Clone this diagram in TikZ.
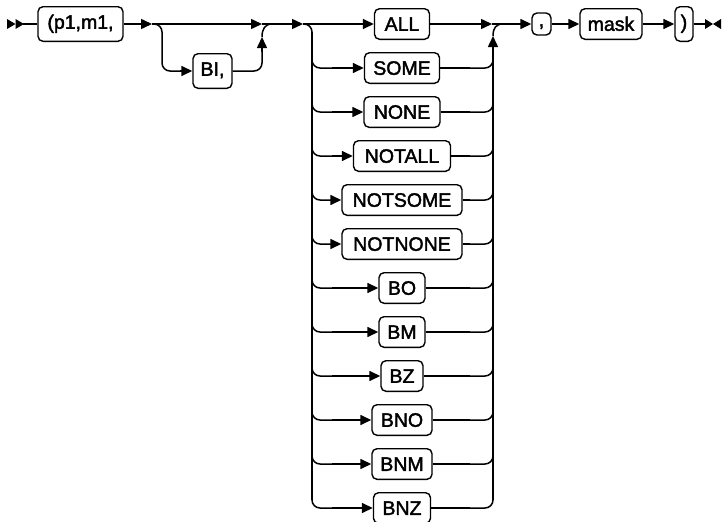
\documentclass[tikz,border=0pt]{standalone}
\usepackage{fontspec}
\setmainfont{Liberation Sans}
\newfontfamily\tfont{Liberation Sans}[FakeBold=2]
\usetikzlibrary{arrows.meta}
\begin{document}
\begin{tikzpicture}[x=1pt,y=-1pt,
  line width=1.5pt,
  arr/.style={-{Triangle[length=11pt,width=10pt]}},
  term/.style={draw, rounded corners=5pt, line width=1.4pt,
    font=\tfont\fontsize{19.5pt}{22pt}\selectfont, text height=13.6pt, text depth=0pt,
    inner ysep=8.5pt, inner xsep=2pt},
  bar/.style={line width=2.6pt},
  rc/.style={rounded corners=8pt},
]
\useasboundingbox (0,0) rectangle (726,522);

% start marker
\fill (7,19) -- (15.5,24) -- (7,29) -- cycle;
\fill (15.5,19) -- (24,24) -- (15.5,29) -- cycle;
\coordinate (s) at (23,24);

\node[term, minimum width=85pt, text depth=4pt] (p1) at (80.5,24) {(p1,m1,};
\draw (s) -- (p1.west);

\coordinate (j1) at (152,24);
\coordinate (m1) at (262,24);
\coordinate (j2) at (303,24);
\draw[arr] (p1.east) -- (j1);
\draw[arr] (j1) -- (m1);
\draw[arr] (m1) -- (j2);

% optional BI,
\node[term, minimum width=39pt, text depth=4pt] (bi) at (212.5,71) {BI,};
\coordinate (bil) at (180,71);
\draw[rc] (j1) -| (162,71) -- (bil);
\draw[arr] (bil) -- (bi.west);
\coordinate (biu) at (262,52);
\coordinate (bit) at (262,37);
\draw[rc] (bi.east) -| (biu);
\draw[arr] (biu) -- (bit);
\draw (bit) .. controls (262,29) and (265,24) .. (272,24);

% choice block
\node[term, minimum width=55pt] (all) at (402,24) {ALL};
\draw[arr] (j2) -- (all.west);
\coordinate (lt) at (312,40);
\draw[rc] (j2) -| (lt);
\draw[bar] (312,32) -- (312,500);

\foreach \n/\t/\w/\y in {some/SOME/75/68, none/NONE/76/112, notall/NOTALL/97/156,
  notsome/NOTSOME/120/200, notnone/NOTNONE/120/244, bo/BO/46/288, bm/BM/46/332,
  bz/BZ/42/376, bno/BNO/60/420, bnm/BNM/60/464, bnz/BNZ/57/508}{
  \node[term, minimum width=\w pt] (\n) at (402,\y) {\t};
  \coordinate (\n l) at (332,\y);
  \coordinate (\n r) at (470,\y);
  \draw[rc] (312,\y-16) |- (\n l);
  \draw[arr] (\n l) -- (\n.west);
  \draw (\n.east) -- (\n r);
  \draw[rc] (\n r) -| (493,\y-16);
}

\coordinate (j3) at (492,24);
\coordinate (ru) at (493,50);
\coordinate (rt) at (493,36);
\draw[bar] (493,500) -- (493,46);
\draw[arr] (ru) -- (rt);
\draw (rt) .. controls (493,28) and (496,24) .. (503,24);
\draw[arr] (all.east) -- (j3);

% tail
\node[term, minimum width=19pt, text height=6pt, text depth=1pt, inner ysep=7.5pt] (comma) at (541.5,24) {,};
\node[term, minimum width=62pt] (mask) at (611,24) {mask};
\node[term, minimum width=18pt, text depth=4pt] (rp) at (684,24) {)};
\draw[arr] (j3) -- (comma.west);
\draw[arr] (comma.east) -- (mask.west);
\draw[arr] (mask.east) -- (rp.west);
\coordinate (e) at (705,24);
\draw (rp.east) -- (e);
\fill (705,19) -- (713,24) -- (705,29) -- cycle;
\fill (721,19) -- (713,24) -- (721,29) -- cycle;
\end{tikzpicture}
\end{document}
